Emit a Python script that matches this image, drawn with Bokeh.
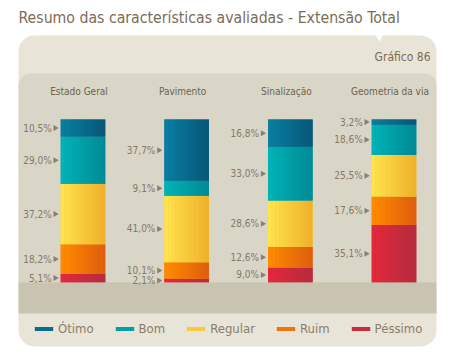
import numpy as np
from bokeh.plotting import figure
from bokeh.models import Range1d, Legend, LegendItem, ColumnDataSource, Label
from bokeh.core.properties import value
from bokeh.embed import file_html
from bokeh.resources import INLINE

# ---------------- data ----------------
categories = ["Estado Geral", "Pavimento", "Sinalização", "Geometria da via"]
series = ["Ótimo", "Bom", "Regular", "Ruim", "Péssimo"]
otimo = [10.5, 37.7, 16.8, 3.2]
bom = [29.0, 9.1, 33.0, 18.6]
regular = [37.2, 41.0, 28.6, 25.5]
ruim = [18.2, 10.1, 12.6, 17.6]
pessimo = [5.1, 2.1, 9.0, 35.1]
title_text = "Resumo das características avaliadas - Extensão Total"
chart_no = "Gráfico 86"

# ---------------- styles ----------------
colors = {
    "Ótimo": ("#0a7ea2", "#08587a"),
    "Bom": ("#00b3b6", "#008b97"),
    "Regular": ("#ffe24c", "#efb22a"),
    "Ruim": ("#ff8a00", "#df600f"),
    "Péssimo": ("#e2283c", "#b72c3e"),
}
FONT = "'DejaVu Sans Condensed', Roboto, sans-serif"
W, H = 440, 350
OX, OY = 0, 0      # page offset of the figure
PX_X = 103.67      # px per category step
X0 = 82.5          # page x of first category centre
PX_Y = 1.627       # px per percent
Y100 = 119.0       # page y of 100 %


def X(px):
    return (px - X0) / PX_X


def Y(py):
    return 100 - (py - Y100) / PX_Y


p = figure(width=W, height=H, output_backend="svg", toolbar_location=None,
           x_range=Range1d(X(OX), X(OX + W)), y_range=Range1d(Y(OY + H), Y(OY)),
           min_border=0, outline_line_color=None)
p.axis.visible = False
p.grid.visible = False
p.background_fill_color = "white"
p.border_fill_color = "white"

# panels
p.quad(left=X(18), right=X(436), top=Y(35), bottom=Y(346), fill_color="#e8e4d7",
       line_color=None, border_radius=16)
p.quad(left=X(18), right=X(436), top=Y(73), bottom=0, fill_color="#d9d5c7",
       line_color=None, border_radius=(12, 12, 0, 0))
p.quad(left=X(18), right=X(436), top=0, bottom=Y(313), fill_color="#c9c3b1",
       line_color=None)
p.scatter(x=[X(379)], y=[Y(37)], marker="inverted_triangle", size=7,
          fill_color="white", line_color=None)

p.add_layout(Label(x=X(18), y=Y(17), text=title_text, text_font=FONT,
                   text_font_size="15.7px", text_color="#7b6c58",
                   text_baseline="middle"))
p.add_layout(Label(x=X(430), y=Y(56), text=chart_no, text_font=FONT,
                   text_font_size="12px", text_color="#7a6b57",
                   text_baseline="middle", text_align="right"))

# bars
idx = np.arange(len(categories), dtype=float)
vals = {"Ótimo": otimo, "Bom": bom, "Regular": regular, "Ruim": ruim, "Péssimo": pessimo}
bw = 44.5 / PX_X
N = 12
bottom = np.zeros(len(categories))
items = []
lab_x, lab_y, lab_t, arr_x = [], [], [], []
for s in ["Péssimo", "Ruim", "Regular", "Bom", "Ótimo"]:
    v = np.array(vals[s], dtype=float)
    top = bottom + v
    c0, c1 = colors[s]
    r0 = np.array([int(c0[i:i + 2], 16) for i in (1, 3, 5)])
    r1 = np.array([int(c1[i:i + 2], 16) for i in (1, 3, 5)])
    mid = "#%02x%02x%02x" % tuple(((r0 + r1) / 2).astype(int))
    rend = p.vbar(x=idx, width=bw, bottom=bottom, top=top, fill_color=mid, line_color=None)
    xs, bs, ts, cs = [], [], [], []
    for k in range(N):
        t = k / (N - 1)
        rgb = (r0 + (r1 - r0) * t).astype(int)
        col = "#%02x%02x%02x" % tuple(rgb)
        for i in range(len(idx)):
            xs.append(idx[i] - bw / 2 + (k + 0.5) * bw / N)
            bs.append(bottom[i]); ts.append(top[i]); cs.append(col)
    src = ColumnDataSource(dict(x=xs, bottom=bs, top=ts, color=cs))
    p.vbar(x="x", width=bw / N * 1.04, bottom="bottom", top="top", fill_color="color",
           line_color=None, source=src)
    items.append(LegendItem(label=s, renderers=[rend]))
    for i in range(len(idx)):
        lab_x.append(idx[i] - bw / 2 - 9 / PX_X)
        arr_x.append(idx[i] - bw / 2 - 5.5 / PX_X)
        lab_y.append((bottom[i] + top[i]) / 2)
        lab_t.append(("%.1f%%" % v[i]).replace(".", ","))
    bottom = top

p.text(x=lab_x, y=lab_y, text=lab_t, text_font=value(FONT), text_font_size="10px",
       text_color="#85796a", text_align="right", text_baseline="middle")
p.scatter(x=arr_x, y=lab_y, marker="triangle", angle=-np.pi / 2, size=6,
          fill_color="#8a7e6e", line_color=None)

p.text(x=idx, y=[Y(91)] * len(idx), text=categories, text_font=value(FONT),
       text_font_size="10px", text_color="#6e6350", text_align="center",
       text_baseline="middle", x_offset=-4)

order = {s: i for i, s in enumerate(series)}
items.sort(key=lambda it: order[it.label.value])
legend = Legend(items=items, orientation="horizontal", location=(32, H - 328 - 8),
                glyph_width=23, glyph_height=5, label_standoff=3, spacing=19,
                padding=0, margin=0, label_text_font=FONT, label_text_font_size="13px",
                label_text_color="#8a7d6b", background_fill_alpha=0,
                border_line_alpha=0, label_height=16)
p.add_layout(legend)

open("out.html", "w").write(file_html(p, INLINE))
